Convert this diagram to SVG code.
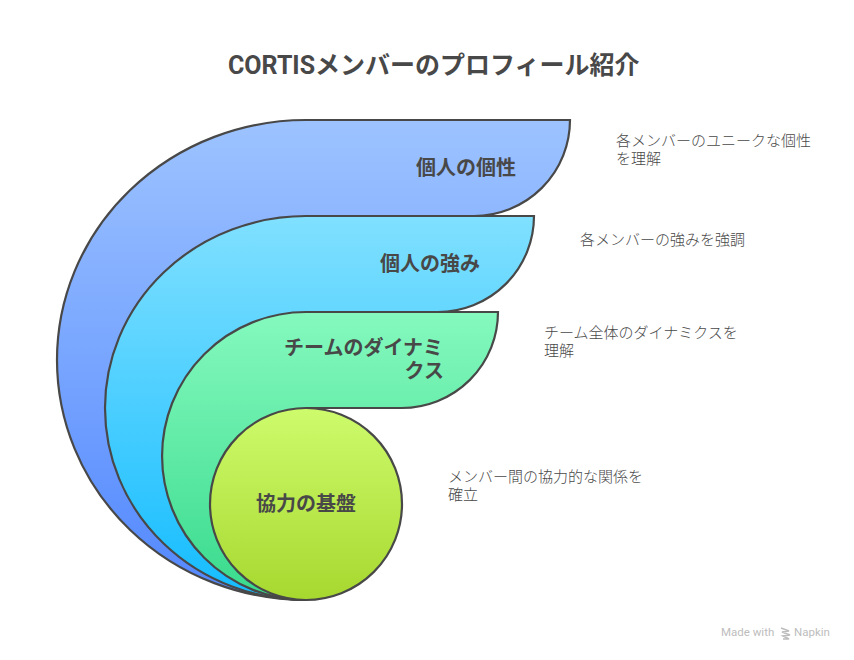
<svg xmlns="http://www.w3.org/2000/svg" width="854" height="660" viewBox="0 0 854 660">
<style>
text{font-family:Roboto,"Noto Sans CJK JP",sans-serif;fill:#484848}
.t{font-size:25px;font-weight:700}
.n{font-size:20px;font-weight:700;text-anchor:middle}
.e{font-size:20px;font-weight:700;text-anchor:end}
.d{font-size:15px;font-weight:300}
.s{stroke:#484848;stroke-width:2.2}
.w{font-size:11.5px;fill:#bdbdbd}
</style>
<defs>
<linearGradient id="g1" x1="0" y1="0" x2="0" y2="1"><stop offset="0" stop-color="#9dc3ff"/><stop offset="1" stop-color="#5287ff"/></linearGradient>
<linearGradient id="g2" x1="0" y1="0" x2="0" y2="1"><stop offset="0" stop-color="#80e0ff"/><stop offset="1" stop-color="#14bcff"/></linearGradient>
<linearGradient id="g3" x1="0" y1="0" x2="0" y2="1"><stop offset="0" stop-color="#85f9be"/><stop offset="1" stop-color="#38da8c"/></linearGradient>
<linearGradient id="g4" x1="0" y1="0" x2="0" y2="1"><stop offset="0" stop-color="#cdfb6c"/><stop offset="1" stop-color="#a7d82f"/></linearGradient>
</defs>
<text class="t" x="228" y="74">CORTISメンバーのプロフィール紹介</text>
<g id="connectors"></g>
<g id="node1"><path class="s" fill="url(#g1)" d="M306 600A249 240 0 0 1 306 120H570A96 96 0 0 1 474 216H306Z"/><text class="n" x="466" y="175">個人の個性</text><text class="d" x="616" y="146">各メンバーのユニークな個性</text><text class="d" x="616" y="164">を理解</text></g>
<g id="node2"><path class="s" fill="url(#g2)" d="M306 600A201 192 0 0 1 306 216H534A96 96 0 0 1 438 312H306Z"/><text class="n" x="430" y="271">個人の強み</text><text class="d" x="580" y="245">各メンバーの強みを強調</text></g>
<g id="node3"><path class="s" fill="url(#g3)" d="M306 600A144 144 0 0 1 306 312H498A96 96 0 0 1 402 408H306Z"/><text class="e" x="443" y="355">チームのダイナミ</text><text class="e" x="444" y="378">クス</text><text class="d" x="544" y="338">チーム全体のダイナミクスを</text><text class="d" x="544" y="356">理解</text></g>
<g id="node4"><circle class="s" cx="306" cy="504" r="96" fill="url(#g4)"/><text class="n" x="306" y="511">協力の基盤</text><text class="d" x="448" y="482">メンバー間の協力的な関係を</text><text class="d" x="448" y="500">確立</text></g>
<text class="w" x="721" y="636">Made with</text>
<path d="M781 628l8 3-7 1 8 3-7 1 6 3-6 0" fill="none" stroke="#bdbdbd" stroke-width="1.6"/>
<text class="w" x="794" y="636">Napkin</text>
</svg>
